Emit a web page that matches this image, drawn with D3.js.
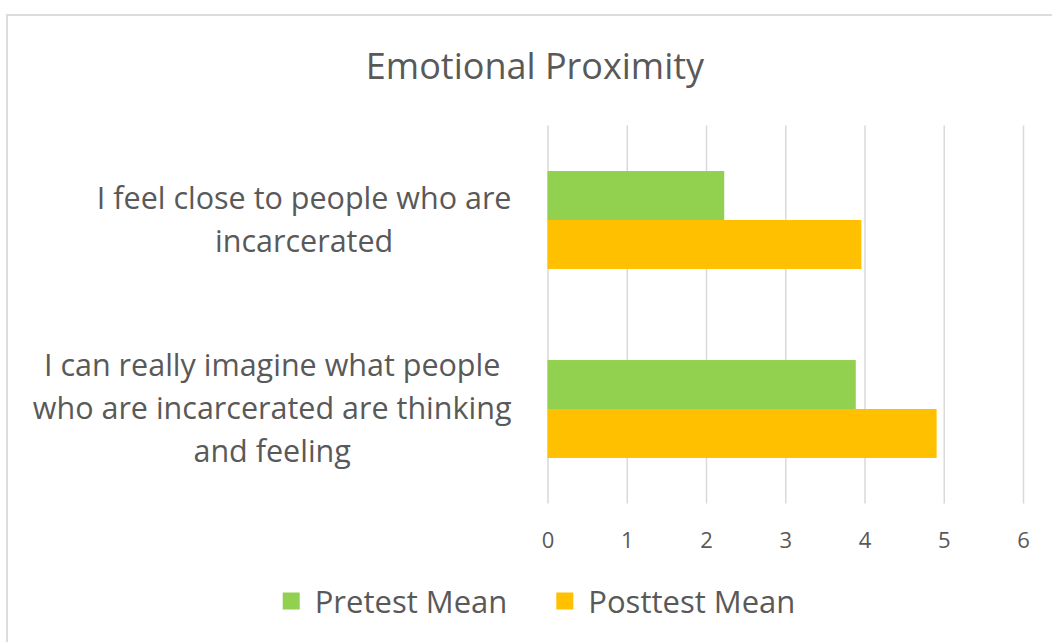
<!DOCTYPE html>
<html>
<head>
<meta charset="utf-8">
<script src="https://cdn.jsdelivr.net/npm/d3@7"></script>
<style>
  html, body { margin: 0; padding: 0; background: #fff; }
  svg { display: block; font-family: "Open Sans", sans-serif; }
  .grid line { stroke: #d9d9d9; stroke-width: 1.5; }
  .grid path { display: none; }
  .x.axis path { display: none; }
  .x.axis text { fill: #595959; font-size: 22px; font-family: "Open Sans", sans-serif; }
</style>
</head>
<body>
<div id="chart"></div>
<script>
// Chart data
const title = "Emotional Proximity";
const categories = [
  "I feel close to people who are incarcerated",
  "I can really imagine what people who are incarcerated are thinking and feeling",
];
// Wrapped lines of each category label, as shown in the picture
const categoryLines = [
  ["I feel close to people who are", "incarcerated"],
  ["I can really imagine what people", "who are incarcerated are thinking", "and feeling"],
];
const seriesNames = ["Pretest Mean", "Posttest Mean"];
const pretest = [2.23, 3.89];
const posttest = [3.96, 4.91];
const xTicks = [0, 1, 2, 3, 4, 5, 6];

const COLORS = ["#92d050", "#ffc000"];
const TEXT = "#595959";

const width = 1052, height = 642;
const plot = { left: 547.5, right: 1023, top: 125.5, bottom: 503.5 };

const svg = d3.select("#chart").append("svg")
  .attr("width", width)
  .attr("height", height);

// Chart area border - runs off the right and bottom of the picture
svg.append("rect")
  .attr("x", 7).attr("y", 15)
  .attr("width", 1100).attr("height", 700)
  .attr("fill", "#fff")
  .attr("stroke", "#dcdcdc")
  .attr("stroke-width", 2);

svg.append("text")
  .attr("x", 535).attr("y", 65)
  .attr("text-anchor", "middle")
  .attr("dominant-baseline", "central")
  .attr("fill", TEXT)
  .style("font-size", "36px")
  .text(title);

const x = d3.scaleLinear().domain([0, 6]).range([plot.left, plot.right]);
const y0 = d3.scaleBand().domain(categories).range([plot.top, plot.bottom]);
const y1 = d3.scaleBand().domain(seriesNames).range([0, y0.bandwidth()]).paddingOuter(0.93);
const color = d3.scaleOrdinal().domain(seriesNames).range(COLORS);

// Vertical gridlines
svg.append("g")
  .attr("class", "grid")
  .attr("transform", `translate(0,${plot.bottom})`)
  .call(d3.axisBottom(x).tickValues(xTicks).tickSize(-(plot.bottom - plot.top)).tickFormat(""));

svg.append("g")
  .attr("class", "x axis")
  .attr("transform", `translate(0,${plot.bottom})`)
  .call(d3.axisBottom(x).tickValues(xTicks).tickSize(0).tickPadding(29).tickFormat(d3.format("d")));

// Table of bars: one row per category and series
const rows = categories.flatMap((c, i) => [
  { cat: c, series: seriesNames[0], value: pretest[i] },
  { cat: c, series: seriesNames[1], value: posttest[i] },
]);

svg.append("g")
  .selectAll("rect")
  .data(rows)
  .join("rect")
  .attr("x", x(0))
  .attr("y", (d) => y0(d.cat) + y1(d.series))
  .attr("width", (d) => x(d.value) - x(0))
  .attr("height", y1.bandwidth())
  .attr("fill", (d) => color(d.series));

// Category labels: block right-aligned, lines centred inside the block
const lineHeight = 43;
categories.forEach((c, i) => {
  const g = svg.append("g");
  const lines = categoryLines[i];
  const cy = y0(c) + y0.bandwidth() / 2 - 2;
  const texts = g.selectAll("text")
    .data(lines)
    .join("text")
    .attr("text-anchor", "middle")
    .attr("dominant-baseline", "central")
    .attr("fill", TEXT)
    .style("font-size", "30.5px")
    .attr("y", (d, j) => cy + (j - (lines.length - 1) / 2) * lineHeight)
    .text((d) => d);
  const w = d3.max(texts.nodes(), (n) => n.getComputedTextLength());
  texts.attr("x", plot.left - 36 - w / 2);
});

// Legend, centred under the chart
const legend = svg.append("g");
const items = legend.selectAll("g")
  .data(seriesNames)
  .join("g");
items.append("rect")
  .attr("width", 17).attr("height", 17)
  .attr("y", -8.5)
  .attr("fill", (d) => color(d));
items.append("text")
  .attr("x", 32)
  .attr("dominant-baseline", "central")
  .attr("fill", TEXT)
  .style("font-size", "31px")
  .text((d) => d);
let off = 0;
items.each(function () {
  d3.select(this).attr("transform", `translate(${off},0)`);
  off += this.getBBox().width + 49;
});
const legendWidth = off - 49;
legend.attr("transform", `translate(${539 - legendWidth / 2},601)`);
</script>
</body>
</html>
